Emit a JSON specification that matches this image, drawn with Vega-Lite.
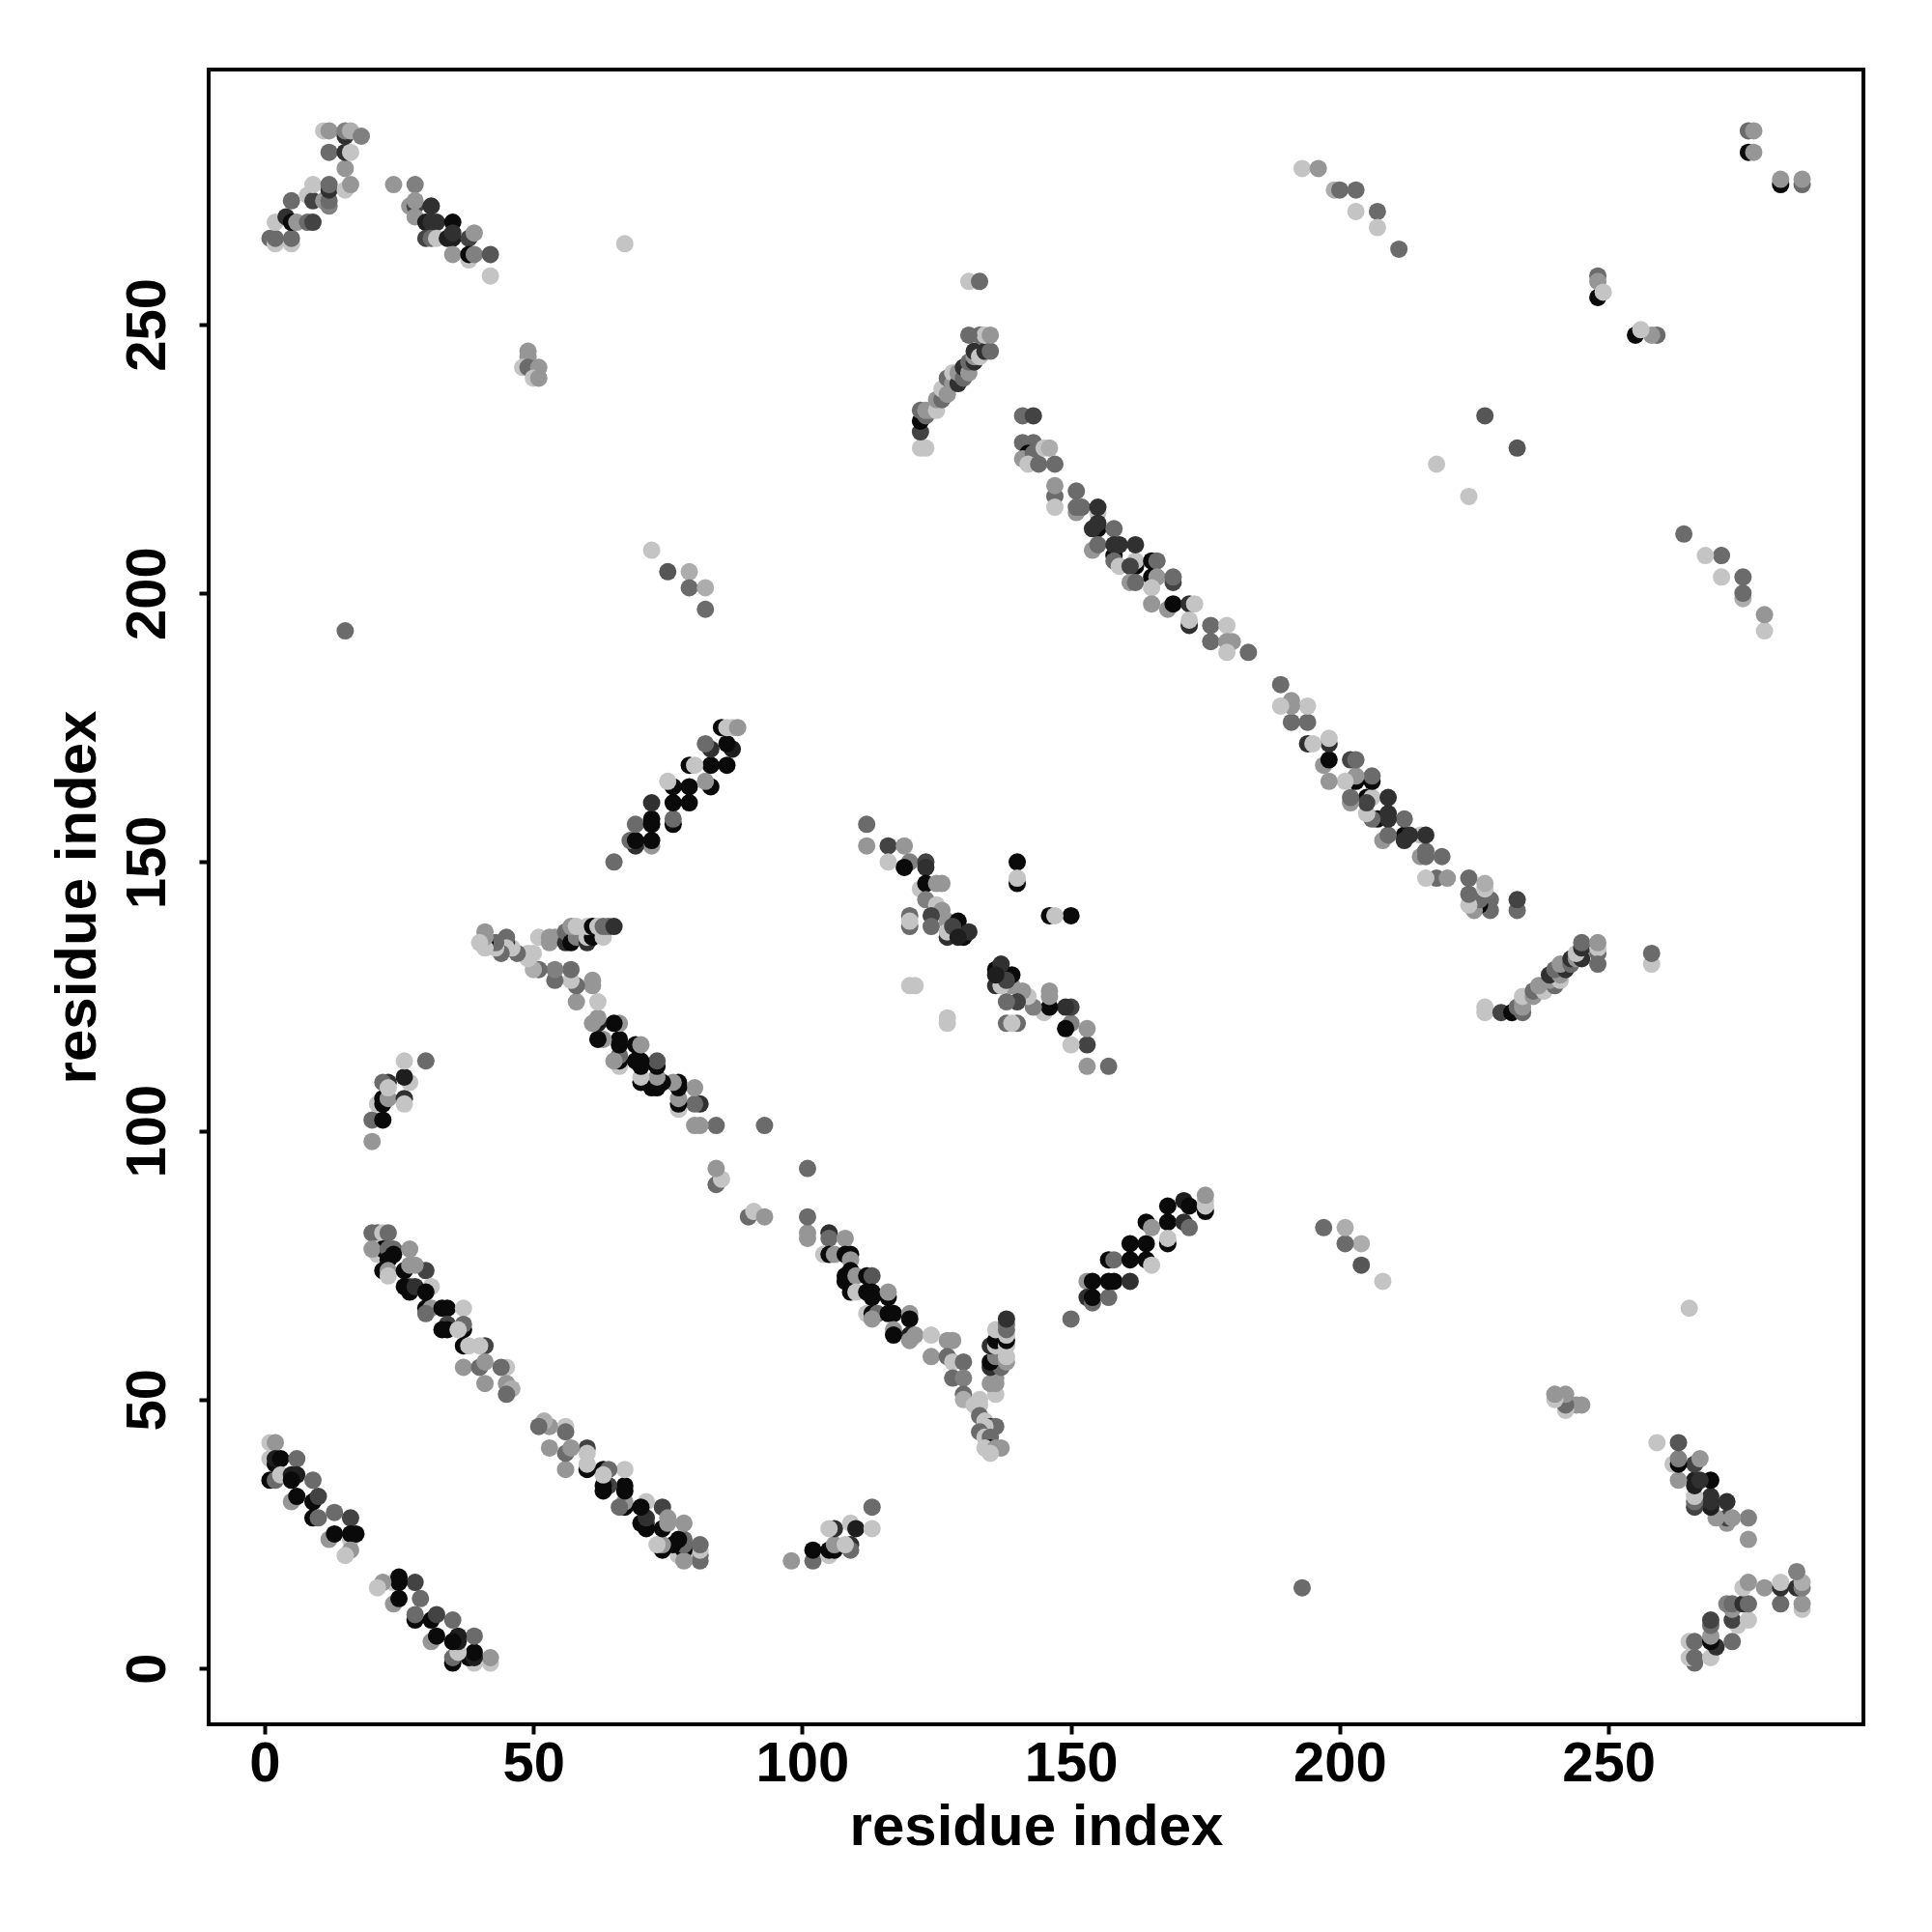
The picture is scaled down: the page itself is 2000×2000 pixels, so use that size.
{"$schema":"https://vega.github.io/schema/vega-lite/v6.json","autosize":"none","padding":{"left":216,"top":72,"right":71,"bottom":215},"width":1713,"height":1713,"background":"white","config":{"view":{"stroke":"#000000","strokeWidth":4},"font":"Liberation Sans"},"data":{"values":[
{"x":1,"y":42,"s":9},{"x":2,"y":42,"s":7},{"x":1,"y":39,"s":9},{"x":2,"y":38,"s":0},{"x":2,"y":39,"s":1},{"x":3,"y":39,"s":0},{"x":6,"y":39,"s":5},{"x":1,"y":35,"s":0},{"x":2,"y":35,"s":5},{"x":3,"y":36,"s":9},{"x":5,"y":36,"s":1},{"x":6,"y":36,"s":1},{"x":5,"y":35,"s":0},{"x":9,"y":35,"s":5},{"x":5,"y":31,"s":7},{"x":6,"y":32,"s":0},{"x":9,"y":31,"s":0},{"x":10,"y":32,"s":3},{"x":9,"y":28,"s":0},{"x":10,"y":28,"s":5},{"x":13,"y":29,"s":5},{"x":16,"y":28,"s":3},{"x":12,"y":24,"s":7},{"x":13,"y":25,"s":0},{"x":16,"y":24,"s":9},{"x":16,"y":25,"s":0},{"x":17,"y":25,"s":0},{"x":16,"y":22,"s":7},{"x":15,"y":21,"s":9},
{"x":20,"y":81,"s":5},{"x":21,"y":81,"s":5},{"x":22,"y":81,"s":9},{"x":23,"y":81,"s":5},{"x":21,"y":78,"s":9},{"x":21,"y":77,"s":9},{"x":22,"y":78,"s":0},{"x":20,"y":78,"s":7},{"x":23,"y":78,"s":5},{"x":24,"y":78,"s":5},{"x":24,"y":77,"s":0},{"x":27,"y":78,"s":7},{"x":23,"y":76,"s":0},{"x":22,"y":74,"s":0},{"x":23,"y":74,"s":7},{"x":23,"y":73,"s":9},{"x":26,"y":74,"s":0},{"x":27,"y":75,"s":7},{"x":30,"y":74,"s":3},{"x":27,"y":71,"s":3},{"x":26,"y":71,"s":0},{"x":27,"y":70,"s":0},{"x":28,"y":71,"s":2},{"x":28,"y":75,"s":7},{"x":31,"y":71,"s":9},{"x":30,"y":67,"s":0},{"x":31,"y":67,"s":7},{"x":30,"y":66,"s":5},{"x":30,"y":70,"s":0},{"x":33,"y":67,"s":0},{"x":34,"y":67,"s":0},{"x":37,"y":67,"s":9},{"x":34,"y":64,"s":3},{"x":33,"y":63,"s":0},{"x":34,"y":63,"s":0},{"x":37,"y":63,"s":0},{"x":37,"y":64,"s":5},{"x":36,"y":63,"s":9},{"x":37,"y":60,"s":0},{"x":38,"y":60,"s":9},{"x":41,"y":60,"s":3},{"x":40,"y":60,"s":9},{"x":37,"y":56,"s":7},{"x":40,"y":56,"s":5},{"x":41,"y":57,"s":7},{"x":45,"y":56,"s":9},{"x":44,"y":56,"s":5},{"x":41,"y":53,"s":7},{"x":45,"y":53,"s":7},{"x":46,"y":52,"s":8},{"x":45,"y":51,"s":5},
{"x":98,"y":20,"s":7},{"x":102,"y":20,"s":5},{"x":102,"y":22,"s":0},{"x":105,"y":21,"s":9},{"x":105,"y":22,"s":0},{"x":106,"y":22,"s":0},{"x":106,"y":23,"s":7},{"x":106,"y":26,"s":2},{"x":105,"y":26,"s":9},{"x":109,"y":23,"s":2},{"x":109,"y":22,"s":5},{"x":108,"y":23,"s":9},{"x":109,"y":27,"s":9},{"x":110,"y":26,"s":1},{"x":113,"y":30,"s":5},{"x":113,"y":26,"s":9},
{"x":84,"y":90,"s":5},{"x":85,"y":91,"s":9},{"x":84,"y":93,"s":7},{"x":93,"y":101,"s":5},{"x":84,"y":101,"s":5},
{"x":101,"y":81,"s":7},{"x":101,"y":80,"s":7},{"x":105,"y":81,"s":2},{"x":105,"y":80,"s":5},{"x":108,"y":80,"s":7},{"x":104,"y":77,"s":9},{"x":105,"y":77,"s":0},{"x":106,"y":77,"s":7},{"x":108,"y":77,"s":0},{"x":109,"y":77,"s":0},{"x":109,"y":76,"s":7},{"x":109,"y":74,"s":0},{"x":108,"y":73,"s":0},{"x":108,"y":72,"s":0},{"x":110,"y":73,"s":7},{"x":112,"y":73,"s":0},{"x":113,"y":73,"s":4},{"x":109,"y":70,"s":0},{"x":110,"y":70,"s":9},{"x":112,"y":70,"s":0},{"x":113,"y":70,"s":0},{"x":113,"y":69,"s":0},{"x":116,"y":69,"s":0},{"x":116,"y":70,"s":7},{"x":112,"y":66,"s":9},{"x":113,"y":66,"s":0},{"x":114,"y":66,"s":5},{"x":113,"y":65,"s":7},{"x":116,"y":66,"s":0},{"x":117,"y":66,"s":0},{"x":120,"y":66,"s":7},{"x":120,"y":65,"s":0},{"x":117,"y":63,"s":7},{"x":117,"y":62,"s":0},{"x":120,"y":62,"s":1},{"x":120,"y":61,"s":7},{"x":121,"y":62,"s":7},{"x":124,"y":62,"s":9},{"x":124,"y":58,"s":7},{"x":127,"y":61,"s":7},{"x":128,"y":61,"s":7},{"x":127,"y":58,"s":5},{"x":128,"y":57,"s":9},{"x":130,"y":57,"s":5},{"x":128,"y":54,"s":5},{"x":130,"y":54,"s":6},{"x":130,"y":51,"s":5},{"x":130,"y":50,"s":8},{"x":133,"y":50,"s":9},{"x":132,"y":49,"s":9},{"x":133,"y":49,"s":9},{"x":133,"y":47,"s":5},{"x":134,"y":46,"s":9},{"x":135,"y":45,"s":2},{"x":136,"y":45,"s":5},{"x":134,"y":45,"s":9},{"x":133,"y":44,"s":5},{"x":134,"y":43,"s":9},{"x":135,"y":43,"s":5},{"x":135,"y":41,"s":0},{"x":134,"y":41,"s":9},{"x":136,"y":41,"s":7},{"x":137,"y":41,"s":7},{"x":135,"y":40,"s":9},{"x":136,"y":51,"s":9},{"x":135,"y":53,"s":7},{"x":136,"y":53,"s":7},{"x":136,"y":54,"s":7},{"x":135,"y":56,"s":2},{"x":137,"y":56,"s":5},{"x":135,"y":57,"s":0},{"x":136,"y":58,"s":6},{"x":138,"y":57,"s":7},{"x":138,"y":58,"s":9},{"x":135,"y":60,"s":2},{"x":136,"y":60,"s":9},{"x":136,"y":61,"s":0},{"x":138,"y":60,"s":9},{"x":138,"y":61,"s":0},{"x":138,"y":62,"s":9},{"x":136,"y":63,"s":9},{"x":138,"y":63,"s":5},{"x":138,"y":64,"s":5},{"x":138,"y":65,"s":2},
{"x":150,"y":65,"s":5},{"x":153,"y":72,"s":7},{"x":154,"y":72,"s":0},{"x":153,"y":69,"s":2},{"x":154,"y":68,"s":5},{"x":154,"y":69,"s":0},{"x":157,"y":69,"s":5},{"x":157,"y":72,"s":0},{"x":158,"y":72,"s":0},{"x":161,"y":72,"s":2},{"x":157,"y":76,"s":0},{"x":158,"y":76,"s":5},{"x":161,"y":76,"s":0},{"x":161,"y":79,"s":0},{"x":164,"y":79,"s":0},{"x":164,"y":76,"s":0},{"x":165,"y":75,"s":9},{"x":164,"y":83,"s":0},{"x":165,"y":82,"s":7},{"x":168,"y":83,"s":0},{"x":168,"y":79,"s":0},{"x":168,"y":80,"s":9},{"x":168,"y":86,"s":0},{"x":171,"y":87,"s":1},{"x":171,"y":83,"s":2},{"x":172,"y":82,"s":5},{"x":172,"y":86,"s":0},{"x":175,"y":85,"s":0},{"x":175,"y":86,"s":9},{"x":175,"y":87,"s":9},{"x":175,"y":88,"s":7},
{"x":1,"y":266,"s":5},{"x":2,"y":265,"s":9},{"x":2,"y":266,"s":5},{"x":5,"y":265,"s":9},{"x":5,"y":266,"s":5},{"x":2,"y":269,"s":9},{"x":4,"y":270,"s":2},{"x":5,"y":269,"s":0},{"x":6,"y":269,"s":7},{"x":8,"y":269,"s":5},{"x":9,"y":269,"s":3},{"x":5,"y":273,"s":5},{"x":8,"y":274,"s":9},{"x":9,"y":273,"s":3},{"x":11,"y":273,"s":7},{"x":12,"y":272,"s":6},{"x":12,"y":273,"s":5},{"x":9,"y":276,"s":9},{"x":12,"y":275,"s":2},{"x":12,"y":276,"s":5},{"x":15,"y":275,"s":9},{"x":16,"y":276,"s":7},{"x":15,"y":279,"s":7},{"x":12,"y":282,"s":5},{"x":15,"y":282,"s":2},{"x":16,"y":282,"s":9},{"x":11,"y":286,"s":9},{"x":12,"y":286,"s":7},{"x":15,"y":285,"s":2},{"x":15,"y":286,"s":6},{"x":16,"y":286,"s":8},{"x":18,"y":285,"s":6},
{"x":24,"y":276,"s":7},{"x":28,"y":276,"s":6},{"x":27,"y":272,"s":7},{"x":28,"y":272,"s":3},{"x":28,"y":273,"s":7},{"x":28,"y":270,"s":7},{"x":31,"y":272,"s":2},{"x":30,"y":269,"s":1},{"x":31,"y":269,"s":2},{"x":32,"y":269,"s":2},{"x":35,"y":269,"s":0},{"x":30,"y":266,"s":3},{"x":31,"y":266,"s":5},{"x":32,"y":266,"s":9},{"x":34,"y":266,"s":1},{"x":35,"y":266,"s":1},{"x":35,"y":267,"s":2},{"x":38,"y":266,"s":3},{"x":39,"y":267,"s":7},{"x":35,"y":263,"s":7},{"x":38,"y":262,"s":9},{"x":38,"y":263,"s":0},{"x":39,"y":263,"s":6},{"x":42,"y":263,"s":4},{"x":42,"y":259,"s":9},
{"x":67,"y":265,"s":9},{"x":49,"y":245,"s":7},{"x":49,"y":244,"s":7},{"x":48,"y":242,"s":9},{"x":49,"y":242,"s":5},{"x":51,"y":242,"s":7},{"x":50,"y":240,"s":9},{"x":51,"y":240,"s":7},{"x":72,"y":208,"s":9},{"x":75,"y":204,"s":4},{"x":79,"y":204,"s":8},{"x":79,"y":201,"s":5},{"x":82,"y":201,"s":8},{"x":82,"y":197,"s":5},{"x":15,"y":193,"s":5},
{"x":112,"y":157,"s":5},{"x":112,"y":153,"s":7},{"x":116,"y":153,"s":3},{"x":119,"y":153,"s":7},{"x":116,"y":150,"s":9},{"x":120,"y":150,"s":6},{"x":123,"y":150,"s":3},{"x":123,"y":149,"s":2},{"x":119,"y":149,"s":0},{"x":122,"y":145,"s":9},{"x":123,"y":146,"s":0},{"x":125,"y":146,"s":7},{"x":126,"y":146,"s":7},{"x":123,"y":143,"s":6},{"x":125,"y":142,"s":9},{"x":126,"y":141,"s":7},{"x":120,"y":140,"s":5},{"x":120,"y":138,"s":5},{"x":120,"y":139,"s":9},{"x":124,"y":140,"s":3},{"x":124,"y":138,"s":5},{"x":127,"y":139,"s":7},{"x":129,"y":139,"s":0},{"x":127,"y":136,"s":2},{"x":127,"y":137,"s":9},{"x":130,"y":136,"s":0},{"x":131,"y":137,"s":2},{"x":128,"y":138,"s":3},{"x":129,"y":136,"s":1},{"x":120,"y":127,"s":9},{"x":121,"y":127,"s":9},{"x":127,"y":121,"s":9},{"x":127,"y":120,"s":9},{"x":140,"y":150,"s":0},{"x":140,"y":146,"s":0},{"x":140,"y":147,"s":9},
{"x":141,"y":233,"s":5},{"x":143,"y":233,"s":3},{"x":141,"y":228,"s":5},{"x":143,"y":228,"s":5},{"x":142,"y":226,"s":0},{"x":141,"y":225,"s":7},{"x":143,"y":226,"s":5},{"x":142,"y":224,"s":9},{"x":144,"y":224,"s":5},{"x":145,"y":227,"s":9},{"x":146,"y":227,"s":8},{"x":147,"y":224,"s":5},{"x":147,"y":218,"s":5},{"x":147,"y":220,"s":7},{"x":147,"y":216,"s":9},{"x":151,"y":219,"s":5},{"x":151,"y":215,"s":7},{"x":151,"y":216,"s":5},{"x":152,"y":216,"s":5},{"x":155,"y":215,"s":9},{"x":155,"y":216,"s":2},{"x":155,"y":212,"s":0},{"x":155,"y":213,"s":2},{"x":154,"y":212,"s":2},{"x":158,"y":212,"s":5},{"x":154,"y":208,"s":7},{"x":155,"y":209,"s":5},{"x":158,"y":207,"s":0},{"x":158,"y":209,"s":2},{"x":159,"y":209,"s":2},{"x":162,"y":205,"s":0},{"x":162,"y":206,"s":9},{"x":162,"y":209,"s":2},{"x":158,"y":206,"s":5},{"x":159,"y":205,"s":9},{"x":161,"y":205,"s":3},{"x":165,"y":206,"s":0},{"x":166,"y":206,"s":5},{"x":161,"y":202,"s":7},{"x":162,"y":202,"s":5},{"x":165,"y":203,"s":0},{"x":166,"y":203,"s":7},{"x":165,"y":201,"s":9},{"x":169,"y":202,"s":3},{"x":169,"y":203,"s":5},{"x":165,"y":198,"s":7},{"x":168,"y":197,"s":7},{"x":169,"y":198,"s":0},{"x":172,"y":198,"s":2},{"x":173,"y":198,"s":9},{"x":172,"y":194,"s":2},{"x":172,"y":195,"s":9},{"x":176,"y":194,"s":5},{"x":179,"y":194,"s":9},{"x":176,"y":191,"s":5},{"x":179,"y":191,"s":7},{"x":180,"y":191,"s":7},{"x":179,"y":189,"s":9},{"x":183,"y":189,"s":5},
{"x":122,"y":227,"s":9},{"x":123,"y":227,"s":9},{"x":122,"y":230,"s":3},{"x":122,"y":232,"s":0},{"x":122,"y":234,"s":5},{"x":123,"y":233,"s":5},{"x":123,"y":234,"s":7},{"x":124,"y":234,"s":7},{"x":125,"y":234,"s":9},{"x":125,"y":236,"s":7},{"x":126,"y":236,"s":5},{"x":126,"y":238,"s":9},{"x":127,"y":237,"s":7},{"x":127,"y":240,"s":5},{"x":128,"y":239,"s":7},{"x":128,"y":241,"s":9},{"x":129,"y":239,"s":2},{"x":129,"y":241,"s":7},{"x":130,"y":240,"s":5},{"x":130,"y":242,"s":2},{"x":131,"y":241,"s":7},{"x":131,"y":243,"s":5},{"x":132,"y":243,"s":2},{"x":132,"y":244,"s":7},{"x":132,"y":245,"s":2},{"x":133,"y":244,"s":9},{"x":133,"y":248,"s":5},{"x":134,"y":245,"s":2},{"x":134,"y":248,"s":9},{"x":135,"y":245,"s":5},{"x":135,"y":248,"s":7},{"x":131,"y":258,"s":9},{"x":133,"y":258,"s":5},{"x":131,"y":248,"s":5},
{"x":193,"y":279,"s":9},{"x":196,"y":279,"s":7},{"x":199,"y":275,"s":8},{"x":200,"y":275,"s":5},{"x":203,"y":275,"s":5},{"x":203,"y":271,"s":9},{"x":207,"y":271,"s":5},{"x":207,"y":268,"s":9},{"x":211,"y":264,"s":5},{"x":218,"y":224,"s":9},{"x":227,"y":233,"s":4},{"x":248,"y":259,"s":5},{"x":248,"y":255,"s":0},{"x":248,"y":258,"s":7},{"x":249,"y":256,"s":9},{"x":276,"y":282,"s":0},{"x":277,"y":282,"s":7},{"x":276,"y":286,"s":5},{"x":277,"y":286,"s":7},
{"y":1,"x":42,"s":9},{"y":2,"x":42,"s":7},{"y":1,"x":39,"s":9},{"y":2,"x":38,"s":0},{"y":2,"x":39,"s":1},{"y":3,"x":39,"s":0},{"y":6,"x":39,"s":5},{"y":1,"x":35,"s":0},{"y":2,"x":35,"s":5},{"y":3,"x":36,"s":9},{"y":5,"x":36,"s":1},{"y":6,"x":36,"s":1},{"y":5,"x":35,"s":0},{"y":9,"x":35,"s":5},{"y":5,"x":31,"s":7},{"y":6,"x":32,"s":0},{"y":9,"x":31,"s":0},{"y":10,"x":32,"s":3},{"y":9,"x":28,"s":0},{"y":10,"x":28,"s":5},{"y":13,"x":29,"s":5},{"y":16,"x":28,"s":3},{"y":12,"x":24,"s":7},{"y":13,"x":25,"s":0},{"y":16,"x":24,"s":9},{"y":16,"x":25,"s":0},{"y":17,"x":25,"s":0},{"y":16,"x":22,"s":7},{"y":15,"x":21,"s":9},
{"y":20,"x":81,"s":5},{"y":21,"x":81,"s":5},{"y":22,"x":81,"s":9},{"y":23,"x":81,"s":5},{"y":21,"x":78,"s":9},{"y":21,"x":77,"s":9},{"y":22,"x":78,"s":0},{"y":20,"x":78,"s":7},{"y":23,"x":78,"s":5},{"y":24,"x":78,"s":5},{"y":24,"x":77,"s":0},{"y":27,"x":78,"s":7},{"y":23,"x":76,"s":0},{"y":22,"x":74,"s":0},{"y":23,"x":74,"s":7},{"y":23,"x":73,"s":9},{"y":26,"x":74,"s":0},{"y":27,"x":75,"s":7},{"y":30,"x":74,"s":3},{"y":27,"x":71,"s":3},{"y":26,"x":71,"s":0},{"y":27,"x":70,"s":0},{"y":28,"x":71,"s":2},{"y":28,"x":75,"s":7},{"y":31,"x":71,"s":9},{"y":30,"x":67,"s":0},{"y":31,"x":67,"s":7},{"y":30,"x":66,"s":5},{"y":30,"x":70,"s":0},{"y":33,"x":67,"s":0},{"y":34,"x":67,"s":0},{"y":37,"x":67,"s":9},{"y":34,"x":64,"s":3},{"y":33,"x":63,"s":0},{"y":34,"x":63,"s":0},{"y":37,"x":63,"s":0},{"y":37,"x":64,"s":5},{"y":36,"x":63,"s":9},{"y":37,"x":60,"s":0},{"y":38,"x":60,"s":9},{"y":41,"x":60,"s":3},{"y":40,"x":60,"s":9},{"y":37,"x":56,"s":7},{"y":40,"x":56,"s":5},{"y":41,"x":57,"s":7},{"y":45,"x":56,"s":9},{"y":44,"x":56,"s":5},{"y":41,"x":53,"s":7},{"y":45,"x":53,"s":7},{"y":46,"x":52,"s":8},{"y":45,"x":51,"s":5},
{"y":98,"x":20,"s":7},{"y":102,"x":20,"s":5},{"y":102,"x":22,"s":0},{"y":105,"x":21,"s":9},{"y":105,"x":22,"s":0},{"y":106,"x":22,"s":0},{"y":106,"x":23,"s":7},{"y":106,"x":26,"s":2},{"y":105,"x":26,"s":9},{"y":109,"x":23,"s":2},{"y":109,"x":22,"s":5},{"y":108,"x":23,"s":9},{"y":109,"x":27,"s":9},{"y":110,"x":26,"s":1},{"y":113,"x":30,"s":5},{"y":113,"x":26,"s":9},
{"y":84,"x":90,"s":5},{"y":85,"x":91,"s":9},{"y":84,"x":93,"s":7},{"y":93,"x":101,"s":5},{"y":84,"x":101,"s":5},
{"y":101,"x":81,"s":7},{"y":101,"x":80,"s":7},{"y":105,"x":81,"s":2},{"y":105,"x":80,"s":5},{"y":108,"x":80,"s":7},{"y":104,"x":77,"s":9},{"y":105,"x":77,"s":0},{"y":106,"x":77,"s":7},{"y":108,"x":77,"s":0},{"y":109,"x":77,"s":0},{"y":109,"x":76,"s":7},{"y":109,"x":74,"s":0},{"y":108,"x":73,"s":0},{"y":108,"x":72,"s":0},{"y":110,"x":73,"s":7},{"y":112,"x":73,"s":0},{"y":113,"x":73,"s":4},{"y":109,"x":70,"s":0},{"y":110,"x":70,"s":9},{"y":112,"x":70,"s":0},{"y":113,"x":70,"s":0},{"y":113,"x":69,"s":0},{"y":116,"x":69,"s":0},{"y":116,"x":70,"s":7},{"y":112,"x":66,"s":9},{"y":113,"x":66,"s":0},{"y":114,"x":66,"s":5},{"y":113,"x":65,"s":7},{"y":116,"x":66,"s":0},{"y":117,"x":66,"s":0},{"y":120,"x":66,"s":7},{"y":120,"x":65,"s":0},{"y":117,"x":63,"s":7},{"y":117,"x":62,"s":0},{"y":120,"x":62,"s":1},{"y":120,"x":61,"s":7},{"y":121,"x":62,"s":7},{"y":124,"x":62,"s":9},{"y":124,"x":58,"s":7},{"y":127,"x":61,"s":7},{"y":128,"x":61,"s":7},{"y":127,"x":58,"s":5},{"y":128,"x":57,"s":9},{"y":130,"x":57,"s":5},{"y":128,"x":54,"s":5},{"y":130,"x":54,"s":6},{"y":130,"x":51,"s":5},{"y":130,"x":50,"s":8},{"y":133,"x":50,"s":9},{"y":132,"x":49,"s":9},{"y":133,"x":49,"s":9},{"y":133,"x":47,"s":5},{"y":134,"x":46,"s":9},{"y":135,"x":45,"s":2},{"y":136,"x":45,"s":5},{"y":134,"x":45,"s":9},{"y":133,"x":44,"s":5},{"y":134,"x":43,"s":9},{"y":135,"x":43,"s":5},{"y":135,"x":41,"s":0},{"y":134,"x":41,"s":9},{"y":136,"x":41,"s":7},{"y":137,"x":41,"s":7},{"y":135,"x":40,"s":9},{"y":136,"x":51,"s":9},{"y":135,"x":53,"s":7},{"y":136,"x":53,"s":7},{"y":136,"x":54,"s":7},{"y":135,"x":56,"s":2},{"y":137,"x":56,"s":5},{"y":135,"x":57,"s":0},{"y":136,"x":58,"s":6},{"y":138,"x":57,"s":7},{"y":138,"x":58,"s":9},{"y":135,"x":60,"s":2},{"y":136,"x":60,"s":9},{"y":136,"x":61,"s":0},{"y":138,"x":60,"s":9},{"y":138,"x":61,"s":0},{"y":138,"x":62,"s":9},{"y":136,"x":63,"s":9},{"y":138,"x":63,"s":5},{"y":138,"x":64,"s":5},{"y":138,"x":65,"s":2},
{"y":150,"x":65,"s":5},{"y":153,"x":72,"s":7},{"y":154,"x":72,"s":0},{"y":153,"x":69,"s":2},{"y":154,"x":68,"s":5},{"y":154,"x":69,"s":0},{"y":157,"x":69,"s":5},{"y":157,"x":72,"s":0},{"y":158,"x":72,"s":0},{"y":161,"x":72,"s":2},{"y":157,"x":76,"s":0},{"y":158,"x":76,"s":5},{"y":161,"x":76,"s":0},{"y":161,"x":79,"s":0},{"y":164,"x":79,"s":0},{"y":164,"x":76,"s":0},{"y":165,"x":75,"s":9},{"y":164,"x":83,"s":0},{"y":165,"x":82,"s":7},{"y":168,"x":83,"s":0},{"y":168,"x":79,"s":0},{"y":168,"x":80,"s":9},{"y":168,"x":86,"s":0},{"y":171,"x":87,"s":1},{"y":171,"x":83,"s":2},{"y":172,"x":82,"s":5},{"y":172,"x":86,"s":0},{"y":175,"x":85,"s":0},{"y":175,"x":86,"s":9},{"y":175,"x":87,"s":9},{"y":175,"x":88,"s":7},
{"y":1,"x":266,"s":5},{"y":2,"x":265,"s":9},{"y":2,"x":266,"s":5},{"y":5,"x":265,"s":9},{"y":5,"x":266,"s":5},{"y":2,"x":269,"s":9},{"y":4,"x":270,"s":2},{"y":5,"x":269,"s":0},{"y":6,"x":269,"s":7},{"y":8,"x":269,"s":5},{"y":9,"x":269,"s":3},{"y":5,"x":273,"s":5},{"y":8,"x":274,"s":9},{"y":9,"x":273,"s":3},{"y":11,"x":273,"s":7},{"y":12,"x":272,"s":6},{"y":12,"x":273,"s":5},{"y":9,"x":276,"s":9},{"y":12,"x":275,"s":2},{"y":12,"x":276,"s":5},{"y":15,"x":275,"s":9},{"y":16,"x":276,"s":7},{"y":15,"x":279,"s":7},{"y":12,"x":282,"s":5},{"y":15,"x":282,"s":2},{"y":16,"x":282,"s":9},{"y":11,"x":286,"s":9},{"y":12,"x":286,"s":7},{"y":15,"x":285,"s":2},{"y":15,"x":286,"s":6},{"y":16,"x":286,"s":8},{"y":18,"x":285,"s":6},
{"y":24,"x":276,"s":7},{"y":28,"x":276,"s":6},{"y":27,"x":272,"s":7},{"y":28,"x":272,"s":3},{"y":28,"x":273,"s":7},{"y":28,"x":270,"s":7},{"y":31,"x":272,"s":2},{"y":30,"x":269,"s":1},{"y":31,"x":269,"s":2},{"y":32,"x":269,"s":2},{"y":35,"x":269,"s":0},{"y":30,"x":266,"s":3},{"y":31,"x":266,"s":5},{"y":32,"x":266,"s":9},{"y":34,"x":266,"s":1},{"y":35,"x":266,"s":1},{"y":35,"x":267,"s":2},{"y":38,"x":266,"s":3},{"y":39,"x":267,"s":7},{"y":35,"x":263,"s":7},{"y":38,"x":262,"s":9},{"y":38,"x":263,"s":0},{"y":39,"x":263,"s":6},{"y":42,"x":263,"s":4},{"y":42,"x":259,"s":9},
{"y":67,"x":265,"s":9},{"y":49,"x":245,"s":7},{"y":49,"x":244,"s":7},{"y":48,"x":242,"s":9},{"y":49,"x":242,"s":5},{"y":51,"x":242,"s":7},{"y":50,"x":240,"s":9},{"y":51,"x":240,"s":7},{"y":72,"x":208,"s":9},{"y":75,"x":204,"s":4},{"y":79,"x":204,"s":8},{"y":79,"x":201,"s":5},{"y":82,"x":201,"s":8},{"y":82,"x":197,"s":5},{"y":15,"x":193,"s":5},
{"y":112,"x":157,"s":5},{"y":112,"x":153,"s":7},{"y":116,"x":153,"s":3},{"y":119,"x":153,"s":7},{"y":116,"x":150,"s":9},{"y":120,"x":150,"s":6},{"y":123,"x":150,"s":3},{"y":123,"x":149,"s":2},{"y":119,"x":149,"s":0},{"y":122,"x":145,"s":9},{"y":123,"x":146,"s":0},{"y":125,"x":146,"s":7},{"y":126,"x":146,"s":7},{"y":123,"x":143,"s":6},{"y":125,"x":142,"s":9},{"y":126,"x":141,"s":7},{"y":120,"x":140,"s":5},{"y":120,"x":138,"s":5},{"y":120,"x":139,"s":9},{"y":124,"x":140,"s":3},{"y":124,"x":138,"s":5},{"y":127,"x":139,"s":7},{"y":129,"x":139,"s":0},{"y":127,"x":136,"s":2},{"y":127,"x":137,"s":9},{"y":130,"x":136,"s":0},{"y":131,"x":137,"s":2},{"y":128,"x":138,"s":3},{"y":129,"x":136,"s":1},{"y":140,"x":150,"s":0},{"y":140,"x":146,"s":0},{"y":140,"x":147,"s":9},
{"y":141,"x":233,"s":5},{"y":143,"x":233,"s":3},{"y":141,"x":228,"s":5},{"y":143,"x":228,"s":5},{"y":142,"x":226,"s":0},{"y":141,"x":225,"s":7},{"y":143,"x":226,"s":5},{"y":142,"x":224,"s":9},{"y":144,"x":224,"s":5},{"y":145,"x":227,"s":9},{"y":146,"x":227,"s":8},{"y":147,"x":224,"s":5},{"y":147,"x":218,"s":5},{"y":147,"x":220,"s":7},{"y":147,"x":216,"s":9},{"y":151,"x":219,"s":5},{"y":151,"x":215,"s":7},{"y":151,"x":216,"s":5},{"y":152,"x":216,"s":5},{"y":155,"x":215,"s":9},{"y":155,"x":216,"s":2},{"y":155,"x":212,"s":0},{"y":155,"x":213,"s":2},{"y":154,"x":212,"s":2},{"y":158,"x":212,"s":5},{"y":154,"x":208,"s":7},{"y":155,"x":209,"s":5},{"y":158,"x":207,"s":0},{"y":158,"x":209,"s":2},{"y":159,"x":209,"s":2},{"y":162,"x":205,"s":0},{"y":162,"x":206,"s":9},{"y":162,"x":209,"s":2},{"y":158,"x":206,"s":5},{"y":159,"x":205,"s":9},{"y":161,"x":205,"s":3},{"y":165,"x":206,"s":0},{"y":166,"x":206,"s":5},{"y":161,"x":202,"s":7},{"y":162,"x":202,"s":5},{"y":165,"x":203,"s":0},{"y":166,"x":203,"s":7},{"y":165,"x":201,"s":9},{"y":169,"x":202,"s":3},{"y":169,"x":203,"s":5},{"y":165,"x":198,"s":7},{"y":168,"x":197,"s":7},{"y":169,"x":198,"s":0},{"y":172,"x":198,"s":2},{"y":173,"x":198,"s":9},{"y":172,"x":194,"s":2},{"y":172,"x":195,"s":9},{"y":176,"x":194,"s":5},{"y":179,"x":194,"s":9},{"y":176,"x":191,"s":5},{"y":179,"x":191,"s":7},{"y":180,"x":191,"s":7},{"y":179,"x":189,"s":9},{"y":183,"x":189,"s":5},
{"y":122,"x":227,"s":9},{"y":123,"x":227,"s":9},{"y":122,"x":230,"s":3},{"y":122,"x":232,"s":0},{"y":122,"x":234,"s":5},{"y":123,"x":233,"s":5},{"y":123,"x":234,"s":7},{"y":124,"x":234,"s":7},{"y":125,"x":234,"s":9},{"y":125,"x":236,"s":7},{"y":126,"x":236,"s":5},{"y":126,"x":238,"s":9},{"y":127,"x":237,"s":7},{"y":127,"x":240,"s":5},{"y":128,"x":239,"s":7},{"y":128,"x":241,"s":9},{"y":129,"x":239,"s":2},{"y":129,"x":241,"s":7},{"y":130,"x":240,"s":5},{"y":130,"x":242,"s":2},{"y":131,"x":241,"s":7},{"y":131,"x":243,"s":5},{"y":132,"x":243,"s":2},{"y":132,"x":244,"s":7},{"y":132,"x":245,"s":2},{"y":133,"x":244,"s":9},{"y":133,"x":248,"s":5},{"y":134,"x":245,"s":2},{"y":134,"x":248,"s":9},{"y":135,"x":245,"s":5},{"y":135,"x":248,"s":7},{"y":131,"x":258,"s":9},{"y":133,"x":258,"s":5},{"y":131,"x":248,"s":5},
{"y":193,"x":279,"s":9},{"y":196,"x":279,"s":7},{"y":199,"x":275,"s":8},{"y":200,"x":275,"s":5},{"y":203,"x":275,"s":5},{"y":203,"x":271,"s":9},{"y":207,"x":271,"s":5},{"y":207,"x":268,"s":9},{"y":211,"x":264,"s":5},{"y":218,"x":224,"s":9},{"y":227,"x":233,"s":4},{"y":248,"x":259,"s":5},{"y":248,"x":255,"s":0},{"y":248,"x":258,"s":7},{"y":249,"x":256,"s":9},{"y":276,"x":282,"s":0},{"y":277,"x":282,"s":7},{"y":276,"x":286,"s":5},{"y":277,"x":286,"s":7}
]},"mark":{"type":"point","shape":"circle","filled":true,"size":324,"opacity":1,"strokeWidth":0},"encoding":{"x":{"field":"x","type":"quantitative","scale":{"domain":[-10.4,297.4],"nice":false,"zero":false},"axis":{"title":"residue index","values":[0,50,100,150,200,250],"grid":false,"domain":false,"tickColor":"#000","tickWidth":4,"tickSize":10,"labelFont":"Liberation Sans","labelFontWeight":"bold","labelFontSize":58,"labelColor":"#000","labelPadding":2,"labelFlush":false,"titleFont":"Liberation Sans","titleFontWeight":"bold","titleFontSize":60,"titleColor":"#000","titleBaseline":"alphabetic","titleY":124}},"y":{"field":"y","type":"quantitative","scale":{"domain":[-10.4,297.4],"nice":false,"zero":false},"axis":{"title":"residue index","values":[0,50,100,150,200,250],"grid":false,"domain":false,"tickColor":"#000","tickWidth":4,"tickSize":10,"labelFont":"Liberation Sans","labelFontWeight":"bold","labelFontSize":58,"labelColor":"#000","labelAngle":-90,"labelAlign":"center","labelBaseline":"alphabetic","labelPadding":36,"labelFlush":false,"titleFont":"Liberation Sans","titleFontWeight":"bold","titleFontSize":60,"titleColor":"#000","titleBaseline":"alphabetic","titleX":-118}},"color":{"field":"s","type":"quantitative","legend":null,"scale":{"domain":[0,9],"range":["#0a0a0a","#c4c4c4"]}}}}
